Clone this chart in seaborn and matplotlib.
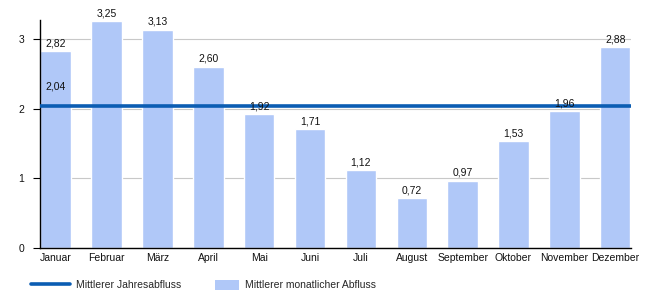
import matplotlib
matplotlib.use("Agg")
import matplotlib.pyplot as plt
import seaborn as sns
import pandas as pd
from matplotlib.lines import Line2D
from matplotlib.patches import Patch

months = ["Januar", "Februar", "März", "April", "Mai", "Juni", "Juli",
          "August", "September", "Oktober", "November", "Dezember"]
monthly = [2.82, 3.25, 3.13, 2.60, 1.92, 1.71, 1.12, 0.72, 0.97, 1.53, 1.96, 2.88]
annual_mean = 2.04
yticks = [0, 1, 2, 3]

bar_color = "#b0c8f8"
line_color = "#0b5db3"

sns.set_theme(style="white")
plt.rcParams["font.family"] = ["Liberation Sans", "DejaVu Sans"]

df = pd.DataFrame({"Monat": months, "Abfluss": monthly})

fig = plt.figure(figsize=(6.5, 3.0), dpi=100)
ax = fig.add_axes([0.0615, 0.172, 0.91, 0.762])

sns.barplot(data=df, x="Monat", y="Abfluss", color=bar_color, width=0.6,
            saturation=1, ax=ax, zorder=2)
ax.axhline(annual_mean, color=line_color, lw=2.6, zorder=3)

for i, v in enumerate(monthly):
    ax.text(i, v + 0.04, f"{v:.2f}".replace(".", ","), ha="center", va="bottom",
            fontsize=7.5, color="#111111", zorder=4)
ax.text(0, annual_mean + 0.2, f"{annual_mean:.2f}".replace(".", ","), ha="center",
        va="bottom", fontsize=7.5, color="#111111", zorder=4)

ax.set_xlim(-0.31, 11.32)
ax.set_ylim(0, 3.27)
ax.set_yticks(yticks)
ax.set_yticklabels([str(t) for t in yticks])
ax.yaxis.grid(True, color="#c8c8c8", lw=0.8, zorder=0)
ax.set_axisbelow(True)
ax.set_xlabel("")
ax.set_ylabel("")
for s in ["top", "right"]:
    ax.spines[s].set_visible(False)
for s in ["left", "bottom"]:
    ax.spines[s].set_color("black")
    ax.spines[s].set_linewidth(1.0)
ax.tick_params(axis="y", which="both", left=True, length=5, width=0.8,
               color="black", labelsize=7.5, pad=6.5, labelcolor="#111111")
ax.tick_params(axis="x", bottom=False, length=0, labelsize=7.5, pad=3,
               labelcolor="#111111")

fs = 7.5
leg1 = fig.legend([Line2D([0], [0], color=line_color, lw=2.6)],
                  ["Mittlerer Jahresabfluss"], loc="center left",
                  bbox_to_anchor=(31 / 650, 0.05), frameon=False, fontsize=fs,
                  handlelength=28 / fs, handletextpad=4.3 / fs, borderpad=0,
                  borderaxespad=0)
leg2 = fig.legend([Patch(facecolor=bar_color, edgecolor="none")],
                  ["Mittlerer monatlicher Abfluss"], loc="center left",
                  bbox_to_anchor=(215 / 650, 0.05), frameon=False, fontsize=fs,
                  handlelength=17.3 / fs, handleheight=8.6 / fs,
                  handletextpad=4.3 / fs, borderpad=0, borderaxespad=0)

fig.savefig("out.png", dpi=100)
